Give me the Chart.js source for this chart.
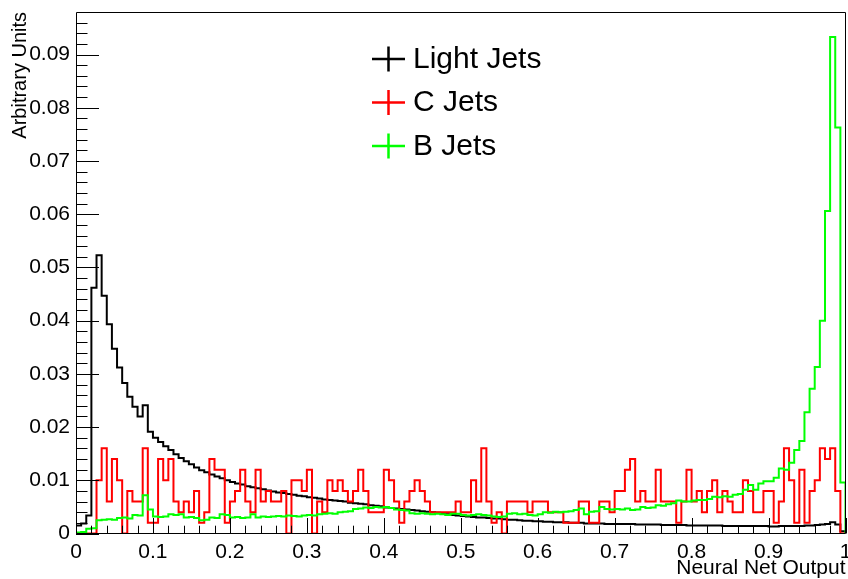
<!DOCTYPE html>
<html>
<head>
  <meta charset="utf-8" />
  <title>Neural Net Output</title>
  <script src="https://cdn.jsdelivr.net/npm/chart.js@4.4.0/dist/chart.umd.min.js"></script>
  <style>
    body { margin: 0; background: #fff; }
    canvas { display: block; }
  </style>
</head>
<body>
<canvas id="nnChart" width="848" height="579"></canvas>

<script>
  // 150 bins between 0 and 1 (normalised histograms)
  const nBins = 150;
  const xMin = 0, xMax = 1;
  const yMax = 0.098;

  const seriesLabels = ['Light Jets', 'C Jets', 'B Jets'];
  const seriesColors = ['#000000', '#ff0000', '#00ff00'];

  const lightJets = [
    0.0015, 0.0019, 0.0034, 0.0462, 0.0523, 0.0447, 0.0393, 0.0347, 0.0312, 0.0283,
    0.0257, 0.0238, 0.0220, 0.0241, 0.0191, 0.0180, 0.0172, 0.0164, 0.0157, 0.0149,
    0.0142, 0.0136, 0.0130, 0.0124, 0.0119, 0.0115, 0.0111, 0.0107, 0.0104, 0.0100,
    0.0097, 0.0094, 0.0092, 0.0089, 0.0087, 0.0085, 0.0083, 0.0081, 0.0079, 0.0077,
    0.0076, 0.0074, 0.0073, 0.0071, 0.0070, 0.0068, 0.0067, 0.0066, 0.0064, 0.0063,
    0.0062, 0.0061, 0.0060, 0.0058, 0.0057, 0.0056, 0.0055, 0.0053, 0.0052, 0.0051,
    0.0049, 0.0048, 0.0047, 0.0046, 0.0045, 0.0044, 0.0043, 0.0042, 0.0041, 0.0040,
    0.0039, 0.0038, 0.0036, 0.0035, 0.0034, 0.0033, 0.0032, 0.0031, 0.0030, 0.0030,
    0.0029, 0.0028, 0.0028, 0.0027, 0.0026, 0.0026, 0.0025, 0.0024, 0.0024, 0.0023,
    0.0023, 0.0022, 0.0022, 0.0021, 0.0021, 0.0021, 0.0020, 0.0020, 0.0020, 0.0019,
    0.0019, 0.0019, 0.0019, 0.0018, 0.0018, 0.0018, 0.0018, 0.0018, 0.0018, 0.0017,
    0.0017, 0.0017, 0.0017, 0.0017, 0.0016, 0.0016, 0.0016, 0.0016, 0.0016, 0.0015,
    0.0015, 0.0015, 0.0015, 0.0015, 0.0015, 0.0015, 0.0014, 0.0014, 0.0014, 0.0014,
    0.0014, 0.0014, 0.0014, 0.0014, 0.0014, 0.0013, 0.0013, 0.0014, 0.0014, 0.0014,
    0.0014, 0.0014, 0.0015, 0.0015, 0.0016, 0.0017, 0.0018, 0.0021, 0.0017, 0.0004
  ];

  const cJets = [
    0, 0, 0, 0, 0.010, 0.016, 0.006, 0.014, 0.010, 0,
    0.008, 0.006, 0.006, 0.016, 0.002, 0.002, 0.014, 0.010, 0.014, 0.006,
    0.004, 0.006, 0.004, 0.008, 0.002, 0.004, 0.014, 0.012, 0.012, 0.002,
    0.006, 0.008, 0.012, 0.006, 0.004, 0.012, 0.006, 0.008, 0.006, 0.006,
    0.008, 0, 0.010, 0.010, 0.008, 0.012, 0, 0.006, 0.004, 0.010,
    0.008, 0.010, 0.008, 0.006, 0.008, 0.012, 0.008, 0.004, 0.004, 0.004,
    0.012, 0.010, 0.006, 0.002, 0.006, 0.008, 0.010, 0.008, 0.006, 0.004,
    0.004, 0.004, 0.004, 0.004, 0.006, 0.004, 0.004, 0.010, 0.006, 0.016,
    0.006, 0.002, 0.004, 0, 0.006, 0.006, 0.006, 0.006, 0.004, 0.006,
    0.006, 0.006, 0.004, 0.004, 0.004, 0.002, 0.002, 0.002, 0.006, 0.006,
    0.002, 0.002, 0.006, 0.006, 0.004, 0.008, 0.008, 0.012, 0.014, 0.006,
    0.008, 0.006, 0.006, 0.012, 0.006, 0.006, 0.006, 0.002, 0.006, 0.012,
    0.006, 0.008, 0.004, 0.008, 0.010, 0.004, 0.008, 0.006, 0.004, 0.004,
    0.010, 0.008, 0.004, 0.004, 0.008, 0.008, 0.002, 0.006, 0.016, 0.010,
    0.002, 0.012, 0.002, 0.008, 0.010, 0.016, 0.014, 0.016, 0.008, 0
  ];

  const bJets = [
    0.0002, 0.0003, 0.0009, 0.0010, 0.0025, 0.0026, 0.0027, 0.0026, 0.0029, 0.0030,
    0.0028, 0.0035, 0.0034, 0.0072, 0.0045, 0.0032, 0.0031, 0.0032, 0.0036, 0.0035,
    0.0036, 0.0030, 0.0031, 0.0029, 0.0025, 0.0026, 0.0030, 0.0029, 0.0036, 0.0035,
    0.0030, 0.0031, 0.0029, 0.0030, 0.0036, 0.0030, 0.0032, 0.0031, 0.0032, 0.0033,
    0.0032, 0.0034, 0.0033, 0.0032, 0.0034, 0.0035, 0.0034, 0.0036, 0.0037, 0.0038,
    0.0037, 0.0040, 0.0041, 0.0042, 0.0046, 0.0047, 0.0049, 0.0048, 0.0050, 0.0049,
    0.0050, 0.0048, 0.0045, 0.0044, 0.0043, 0.0038, 0.0037, 0.0038, 0.0037, 0.0036,
    0.0037, 0.0036, 0.0035, 0.0037, 0.0037, 0.0035, 0.0034, 0.0035, 0.0036, 0.0035,
    0.0034, 0.0032, 0.0031, 0.0032, 0.0037, 0.0038, 0.0036, 0.0037, 0.0035, 0.0034,
    0.0036, 0.0040, 0.0039, 0.0041, 0.0040, 0.0041, 0.0042, 0.0044, 0.0047, 0.0036,
    0.0041, 0.0042, 0.0050, 0.0046, 0.0045, 0.0046, 0.0045, 0.0047, 0.0044, 0.0045,
    0.0050, 0.0048, 0.0049, 0.0053, 0.0052, 0.0055, 0.0057, 0.0062, 0.0060, 0.0060,
    0.0062, 0.0063, 0.0063, 0.0065, 0.0069, 0.0068, 0.0070, 0.0069, 0.0073, 0.0074,
    0.0082, 0.0091, 0.0082, 0.0094, 0.0098, 0.0098, 0.0105, 0.0122, 0.0120, 0.0133,
    0.0157, 0.0174, 0.0228, 0.0272, 0.0313, 0.0400, 0.0606, 0.0933, 0.0763, 0.0096
  ];

  const xTickValues = [0, 0.1, 0.2, 0.3, 0.4, 0.5, 0.6, 0.7, 0.8, 0.9, 1];
  const xTickLabels = ['0', '0.1', '0.2', '0.3', '0.4', '0.5', '0.6', '0.7', '0.8', '0.9', '1'];
  const yTickValues = [0, 0.01, 0.02, 0.03, 0.04, 0.05, 0.06, 0.07, 0.08, 0.09];
  const yTickLabels = ['0', '0.01', '0.02', '0.03', '0.04', '0.05', '0.06', '0.07', '0.08', '0.09'];

  const FONT = '"Liberation Sans", Arial, Helvetica, sans-serif';

  // histogram as step line: value held from the bin's low edge to the next edge
  function histPoints(values) {
    const w = (xMax - xMin) / nBins;
    const pts = [{ x: xMin, y: 0 }];
    values.forEach((v, i) => pts.push({ x: xMin + i * w, y: v }));
    pts.push({ x: xMax, y: 0 });
    return pts;
  }

  function labelFor(values, labels, v) {
    const i = values.findIndex(t => Math.abs(t - v) < 1e-9);
    return i >= 0 ? labels[i] : '';
  }

  // ROOT style frame and inward tick marks
  const frameTicks = {
    id: 'frameTicks',
    afterDatasetsDraw(chart) {
      const { ctx, chartArea: a, scales } = chart;
      ctx.save();
      ctx.strokeStyle = '#000';
      ctx.lineWidth = 1;
      ctx.beginPath();
      ctx.rect(Math.round(a.left) + 0.5, Math.round(a.top) + 0.5,
               Math.round(a.right - a.left) - 1, Math.round(a.bottom - a.top) - 1);
      ctx.stroke();

      ctx.beginPath();
      for (let i = 0; i <= 50; i++) {
        const v = i * 0.02;
        const px = Math.round(scales.x.getPixelForValue(v)) + 0.5;
        const len = i % 5 === 0 ? 15.5 : 7.8;
        ctx.moveTo(px, a.bottom);
        ctx.lineTo(px, a.bottom - len);
      }
      for (let i = 0; i * 0.002 < yMax; i++) {
        const v = i * 0.002;
        const py = Math.round(scales.y.getPixelForValue(v)) + 0.5;
        const len = i % 5 === 0 ? 23 : 11.5;
        ctx.moveTo(a.left, py);
        ctx.lineTo(a.left + len, py);
      }
      ctx.stroke();
      ctx.restore();
    }
  };

  const rootLegend = {
    id: 'rootLegend',
    afterDraw(chart) {
      const ctx = chart.ctx;
      ctx.save();
      ctx.font = '30px ' + FONT;
      ctx.textBaseline = 'alphabetic';
      chart.data.datasets.forEach((ds, i) => {
        const base = 67.5 + i * 43.5;
        const my = base - 8.5;
        ctx.strokeStyle = ds.borderColor;
        ctx.lineWidth = 2.5;
        ctx.beginPath();
        ctx.moveTo(372, my);
        ctx.lineTo(405, my);
        ctx.moveTo(388.5, my - 12.5);
        ctx.lineTo(388.5, my + 12.5);
        ctx.stroke();
        ctx.fillStyle = '#000';
        ctx.fillText(ds.label, 413, base);
      });
      ctx.restore();
    }
  };

  // green drawn on top, then red, black underneath (lower order = drawn later)
  const drawOrder = [2, 1, 0];
  const allSeries = [lightJets, cJets, bJets];
  const datasets = allSeries.map((vals, i) => ({
    label: seriesLabels[i],
    data: histPoints(vals),
    borderColor: seriesColors[i],
    backgroundColor: seriesColors[i],
    borderWidth: 2,
    stepped: true,
    fill: false,
    pointRadius: 0,
    tension: 0,
    borderJoinStyle: 'miter',
    order: drawOrder[i]
  }));

  new Chart(document.getElementById('nnChart').getContext('2d'), {
    type: 'line',
    data: { datasets },
    options: {
      responsive: false,
      animation: false,
      devicePixelRatio: 1,
      layout: { padding: { top: 12, right: 2.5, left: 0, bottom: 0 } },
      plugins: {
        legend: { display: false },
        tooltip: { enabled: false }
      },
      scales: {
        x: {
          type: 'linear',
          min: xMin,
          max: xMax,
          grid: { display: false, drawTicks: false },
          border: { display: false },
          ticks: {
            stepSize: 0.1,
            autoSkip: false,
            maxRotation: 0,
            padding: 6,
            color: '#000',
            font: { family: FONT, size: 21 },
            callback: v => labelFor(xTickValues, xTickLabels, v)
          },
          title: {
            display: true,
            text: 'Neural Net Output',
            align: 'end',
            color: '#000',
            font: { family: FONT, size: 21, lineHeight: 1 },
            padding: 0
          },
          afterFit: s => { s.height = 45.5; s.paddingLeft = 0; s.paddingRight = 0; }
        },
        y: {
          type: 'linear',
          min: 0,
          max: yMax,
          grid: { display: false, drawTicks: false },
          border: { display: false },
          ticks: {
            stepSize: 0.01,
            includeBounds: false,
            padding: 6,
            color: '#000',
            font: { family: FONT, size: 21 },
            callback: v => labelFor(yTickValues, yTickLabels, v)
          },
          title: {
            display: true,
            text: 'Arbitrary Units',
            align: 'end',
            color: '#000',
            font: { family: FONT, size: 20 },
            padding: { top: 8, bottom: 0 }
          },
          afterFit: s => { s.width = 76; s.paddingTop = 0; s.paddingBottom = 0; }
        }
      }
    },
    plugins: [frameTicks, rootLegend]
  });
</script>
</body>
</html>
